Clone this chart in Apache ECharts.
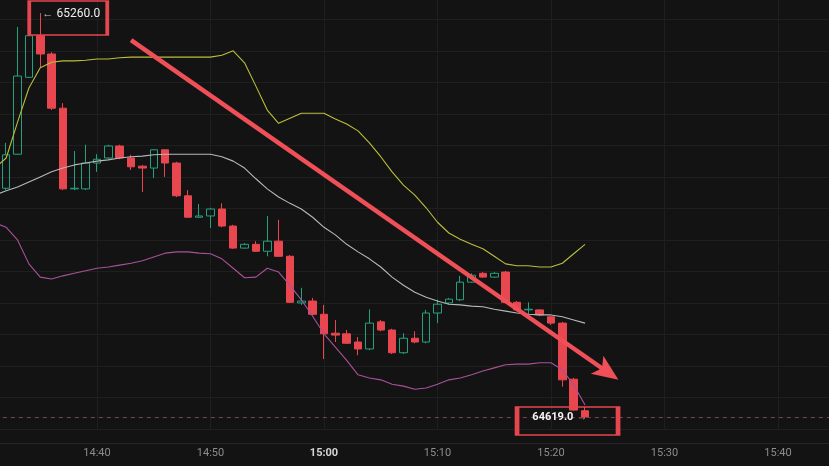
<!DOCTYPE html>
<html>
<head>
<meta charset="utf-8">
<script src="https://cdn.jsdelivr.net/npm/echarts@6/dist/echarts.min.js"></script>
<style>
html,body{margin:0;padding:0;background:#131313;}
#chart{width:829px;height:466px;}
</style>
</head>
<body>
<div id="chart"></div>
<script>
// x-axis categories (1-minute bars)
const categories = ['14:31','14:32','14:33','14:34','14:35','14:36','14:37','14:38','14:39','14:40','14:41','14:42','14:43','14:44','14:45','14:46','14:47','14:48','14:49','14:50','14:51','14:52','14:53','14:54','14:55','14:56','14:57','14:58','14:59','15:00','15:01','15:02','15:03','15:04','15:05','15:06','15:07','15:08','15:09','15:10','15:11','15:12','15:13','15:14','15:15','15:16','15:17','15:18','15:19','15:20','15:21','15:22','15:23','15:24','15:25','15:26','15:27','15:28','15:29','15:30','15:31','15:32','15:33','15:34','15:35','15:36','15:37','15:38','15:39','15:40','15:41','15:42','15:43','15:44','15:45'];
const xTickLabels = ['14:40','14:50','15:00','15:10','15:20','15:30','15:40'];

// candles
const candleTimes = ['14:32','14:33','14:34','14:35','14:36','14:37','14:38','14:39','14:40','14:41','14:42','14:43','14:44','14:45','14:46','14:47','14:48','14:49','14:50','14:51','14:52','14:53','14:54','14:55','14:56','14:57','14:58','14:59','15:00','15:01','15:02','15:03','15:04','15:05','15:06','15:07','15:08','15:09','15:10','15:11','15:12','15:13','15:14','15:15','15:16','15:17','15:18','15:19','15:20','15:21','15:22','15:23'];
const opens  = [64982,65036,65158,65224,65195,65109,64981,64981,65022,65030,65049,65030,65017,65014,65043,65022,64970,64936,64938,64949,64922,64887,64893,64882,64898,64874,64800,64803,64782,64752,64751,64738,64727,64770,64757,64721,64744,64738,64784,64800,64805,64833,64847,64841,64849,64801,64789,64789,64778,64768,64679,64629];
const closes = [65035,65160,65224,65195,65109,64981,64982,65022,65028,65049,65030,65016,65014,65043,65022,64970,64936,64938,64949,64922,64887,64893,64882,64898,64874,64801,64803,64782,64751,64749,64736,64727,64768,64757,64721,64744,64738,64784,64798,64806,64833,64844,64841,64847,64801,64789,64790,64781,64768,64678,64630,64619];
const lows   = [64979,65035,65157,65174,65106,64979,64979,64979,65008,65028,65028,65011,64976,64998,65000,64968,64935,64935,64919,64920,64886,64886,64881,64874,64873,64800,64797,64781,64711,64738,64735,64717,64725,64755,64719,64719,64736,64736,64768,64798,64803,64832,64840,64840,64800,64787,64782,64779,64765,64667,64629,64617];
const highs  = [65054,65238,65233,65260,65198,65117,65041,65051,65036,65051,65051,65035,65019,65044,65044,65024,64979,64957,64951,64958,64924,64895,64898,64938,64932,64876,64824,64808,64797,64773,64757,64746,64790,64773,64759,64752,64755,64789,64805,64808,64843,64847,64849,64849,64851,64803,64801,64790,64779,64770,64681,64635];

// Bollinger bands
const bandTimes = ['14:31','14:32','14:33','14:34','14:35','14:36','14:37','14:38','14:39','14:40','14:41','14:42','14:43','14:44','14:45','14:46','14:47','14:48','14:49','14:50','14:51','14:52','14:53','14:54','14:55','14:56','14:57','14:58','14:59','15:00','15:01','15:02','15:03','15:04','15:05','15:06','15:07','15:08','15:09','15:10','15:11','15:12','15:13','15:14','15:15','15:16','15:17','15:18','15:19','15:20','15:21','15:22','15:23'];
const upperBand  = [65014,65030,65087,65141,65173,65182,65184,65184,65185,65187,65187,65189,65190,65190,65190,65190,65190,65190,65190,65190,65193,65200,65181,65144,65106,65085,65093,65101,65101,65101,65092,65084,65073,65054,65032,65008,64987,64971,64951,64928,64911,64901,64893,64886,64874,64862,64859,64859,64857,64857,64863,64878,64893];
const middleBand = [64971,64978,64984,64992,65000,65008,65014,65019,65022,65025,65027,65030,65032,65033,65035,65036,65036,65036,65036,65036,65032,65025,65014,64997,64981,64968,64958,64949,64936,64920,64908,64893,64881,64870,64857,64841,64828,64817,64809,64803,64798,64797,64795,64794,64790,64787,64784,64782,64781,64781,64778,64773,64768];
const lowerBand  = [64927,64920,64900,64862,64841,64838,64843,64847,64851,64855,64857,64860,64863,64867,64873,64879,64881,64881,64879,64878,64870,64855,64840,64841,64855,64849,64828,64805,64779,64751,64730,64709,64686,64681,64678,64671,64668,64663,64665,64671,64678,64681,64686,64692,64697,64702,64703,64703,64705,64705,64694,64670,64638];

// annotations
const highLabel = 65260.0;
const highTime = '14:35';
const lastPrice = 64619.0;
const lastTime = '15:23';
const arrowFrom = ['14:43', 65217];
const arrowTo = ['15:25', 64690];

const RED = '#e8474f';
const GREEN = '#22a27f';
const isTick = (i, v) => xTickLabels.indexOf(v) >= 0;

const chart = echarts.init(document.getElementById('chart'), null, {renderer: 'canvas'});
const option = {
  backgroundColor: '#131313',
  animation: false,
  grid: {left: -5.15, right: -5.75, top: -12.2, bottom: 37, containLabel: false, outerBoundsMode: 'none'},
  xAxis: {
    type: 'category',
    data: categories,
    boundaryGap: false,
    offset: 14,
    axisLine: {show: true, lineStyle: {color: '#262626', width: 1}},
    axisTick: {show: false},
    axisLabel: {
      interval: isTick, margin: 5, color: '#8c8c8c', fontSize: 11, fontFamily: 'Roboto',
      formatter: v => v === '15:00' ? '{b|' + v + '}' : v,
      rich: {b: {fontWeight: 'bold', color: '#d4d4d4', fontSize: 11, fontFamily: 'Roboto'}}
    },
    splitLine: {show: true, interval: isTick, lineStyle: {color: '#1f1f1f', width: 1}}
  },
  yAxis: {
    type: 'value', min: 64600, max: 65300, interval: 50,
    axisLabel: {show: false}, axisLine: {show: false}, axisTick: {show: false},
    splitLine: {show: true, lineStyle: {color: '#1f1f1f', width: 1}}
  },
  series: [
    {
      name: 'upper', type: 'line', showSymbol: false, silent: true,
      data: bandTimes.map((t, i) => [t, upperBand[i]]),
      lineStyle: {color: '#bdbd3c', width: 1.1}
    },
    {
      name: 'middle', type: 'line', showSymbol: false, silent: true,
      data: bandTimes.map((t, i) => [t, middleBand[i]]),
      lineStyle: {color: '#b8b8b8', width: 1.1}
    },
    {
      name: 'lower', type: 'line', showSymbol: false, silent: true,
      data: bandTimes.map((t, i) => [t, lowerBand[i]]),
      lineStyle: {color: '#a9519b', width: 1.1},
      markLine: {
        silent: true, symbol: ['none', 'none'], label: {show: false},
        lineStyle: {color: '#7d4148', type: [4, 4], width: 1},
        data: [{yAxis: lastPrice}]
      }
    },
    {
      name: 'price', type: 'candlestick', barWidth: 8,
      data: candleTimes.map((t, i) => [t, opens[i], closes[i], lows[i], highs[i]]),
      encode: {x: 0, y: [1, 2, 3, 4]},
      itemStyle: {
        color: 'rgba(0,0,0,0)', borderColor: GREEN,
        color0: RED, borderColor0: RED, borderWidth: 1
      },
      markLine: {
        silent: true, z: 10, symbol: ['none', 'path://M0,0 L10,26 L0,20 L-10,26 Z'], symbolSize: 26,
        label: {show: false},
        lineStyle: {color: '#ef5058', width: 4.5, type: 'solid'},
        data: [[{coord: arrowFrom}, {coord: arrowTo, symbolSize: [22, 26]}]]
      },
      markPoint: {
        silent: true, z: 12,
        data: [
          {
            coord: [highTime, highLabel], symbol: 'rect', symbolSize: [78, 34], symbolOffset: [28, 5],
            itemStyle: {color: 'rgba(0,0,0,0)', borderColor: '#e5474f', borderWidth: 2.5},
            label: {
              show: true, position: 'inside', offset: [3, -4],
              formatter: '{a|←} {b|' + highLabel.toFixed(1) + '}',
              rich: {
                a: {color: '#c8c8c8', fontSize: 11, fontFamily: 'Roboto'},
                b: {color: '#f0f0f0', fontSize: 12, fontFamily: 'Roboto'}
              }
            }
          },
          {
            coord: [lastTime, lastPrice], symbol: 'rect', symbolSize: [101, 28], symbolOffset: [-17.5, 4],
            itemStyle: {color: 'rgba(0,0,0,0)', borderColor: '#e5474f', borderWidth: 2.5},
            label: {
              show: true, position: 'inside', offset: [-8, -4],
              formatter: '{b|' + lastPrice.toFixed(1) + '} {a|→}',
              rich: {
                a: {color: '#9a9a9a', fontSize: 10, fontFamily: 'Roboto'},
                b: {color: '#f4f4f4', fontSize: 11, fontWeight: 'bold', fontFamily: 'Roboto'}
              }
            }
          }
        ]
      }
    }
  ]
};
chart.setOption(option);
</script>
</body>
</html>
